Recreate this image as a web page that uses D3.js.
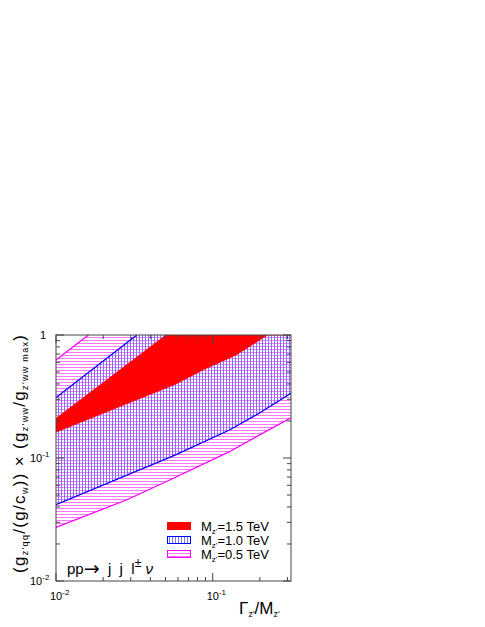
<!DOCTYPE html>
<html>
<head>
<script src="https://d3js.org/d3.v7.min.js"></script>
<style>
  body { margin: 0; background: #fff; }
  text { font-family: "Liberation Sans", Arial, sans-serif; fill: #000; }
</style>
</head>
<body>
<svg id="plot" width="485" height="627"></svg>
<script>
// data: [Gamma/M, coupling ratio]
const magentaUpper = [[0.01, 0.626], [0.0161, 1.0]];
const magentaLower = [[0.01, 0.0273], [0.0286, 0.046], [0.058, 0.0697], [0.128, 0.1125], [0.199, 0.154], [0.316, 0.212]];
const blueUpper = [[0.01, 0.31], [0.0328, 1.0]];
const blueLower = [[0.01, 0.0417], [0.058, 0.106], [0.128, 0.169], [0.199, 0.232], [0.316, 0.336]];
const redUpper = [[0.01, 0.21], [0.0502, 1.0]];
const redLower = [[0.01, 0.162], [0.058, 0.397], [0.0867, 0.519], [0.1416, 0.688], [0.224, 1.0]];

const legendLabels = ["1.5 TeV", "1.0 TeV", "0.5 TeV"];
const xMajor = [0.01, 0.1];
const xMinor = [0.02, 0.03, 0.04, 0.05, 0.06, 0.07, 0.08, 0.09, 0.2, 0.3];
const yMajor = [0.01, 0.1, 1];
const yMinor = [0.02, 0.03, 0.04, 0.05, 0.06, 0.07, 0.08, 0.09, 0.2, 0.3, 0.4, 0.5, 0.6, 0.7, 0.8, 0.9];
const xTickLabels = [["10", "-2"], ["10", "-1"]];
const yTickLabels = [["10", "-2"], ["10", "-1"], ["1", ""]];

const svg = d3.select("svg#plot");
const margin = {left: 56, right: 194, top: 335, bottom: 46};
const W = 485, H = 627;

const x = d3.scaleLog().domain([0.01, 0.316]).range([margin.left, W - margin.right]);
const y = d3.scaleLog().domain([0.01, 1]).range([H - margin.bottom, margin.top]);

const defs = svg.append("defs");
defs.append("clipPath").attr("id", "clip")
    .append("rect")
    .attr("x", x.range()[0]).attr("y", y.range()[1])
    .attr("width", x.range()[1] - x.range()[0])
    .attr("height", y.range()[0] - y.range()[1]);

const hatchH = defs.append("pattern").attr("id", "hatchH")
    .attr("patternUnits", "userSpaceOnUse").attr("width", 6).attr("height", 3);
hatchH.append("line").attr("x1", 0).attr("x2", 6).attr("y1", 1.5).attr("y2", 1.5)
    .attr("stroke", "#ff66ff").attr("stroke-width", 0.9);

const hatchV = defs.append("pattern").attr("id", "hatchV")
    .attr("patternUnits", "userSpaceOnUse").attr("width", 3).attr("height", 6);
hatchV.append("line").attr("y1", 0).attr("y2", 6).attr("x1", 1.5).attr("x2", 1.5)
    .attr("stroke", "#6a6aff").attr("stroke-width", 0.9);

const line = d3.line().x(d => x(d[0])).y(d => y(d[1]));

// band polygon: upper curve, top-right corner, lower curve back
function band(upper, lower) {
    const corner = [x.domain()[1], y.domain()[1]];
    return upper.concat([corner], lower.slice().reverse());
}

const g = svg.append("g").attr("clip-path", "url(#clip)");

g.append("path").attr("d", line(band(magentaUpper, magentaLower)))
    .attr("fill", "url(#hatchH)").attr("stroke", "none");
g.append("path").attr("d", line(band(blueUpper, blueLower)))
    .attr("fill", "url(#hatchV)").attr("stroke", "none");
g.append("path").attr("d", line(band(redUpper, redLower)))
    .attr("fill", "#ff0000").attr("stroke", "#ff0000").attr("stroke-width", 0.5);

[[magentaUpper, "#ff00ff"], [magentaLower, "#ff00ff"], [blueUpper, "#0000ff"], [blueLower, "#0000ff"]]
    .forEach(([d, c]) => {
        g.append("path").attr("d", line(d)).attr("fill", "none")
            .attr("stroke", c).attr("stroke-width", 1.3);
    });

// frame and ticks (ROOT style, ticks inside on all four sides)
const axes = svg.append("g").attr("stroke", "#444");
svg.append("rect")
    .attr("x", x.range()[0]).attr("y", y.range()[1])
    .attr("width", x.range()[1] - x.range()[0])
    .attr("height", y.range()[0] - y.range()[1])
    .attr("fill", "none").attr("stroke", "#444").attr("stroke-width", 1);

function xTicks(vals, len) {
    vals.forEach(v => {
        axes.append("line").attr("x1", x(v)).attr("x2", x(v))
            .attr("y1", y.range()[0]).attr("y2", y.range()[0] - len);
        axes.append("line").attr("x1", x(v)).attr("x2", x(v))
            .attr("y1", y.range()[1]).attr("y2", y.range()[1] + len);
    });
}
function yTicks(vals, len) {
    vals.forEach(v => {
        axes.append("line").attr("y1", y(v)).attr("y2", y(v))
            .attr("x1", x.range()[0]).attr("x2", x.range()[0] + len);
        axes.append("line").attr("y1", y(v)).attr("y2", y(v))
            .attr("x1", x.range()[1]).attr("x2", x.range()[1] - len);
    });
}
xTicks(xMajor, 8); xTicks(xMinor, 4);
yTicks(yMajor, 8); yTicks(yMinor, 4);

// tick labels with superscripts
function powLabel(sel, base, exp) {
    sel.append("tspan").text(base);
    if (exp) sel.append("tspan").attr("font-size", 8).attr("dy", -5).text(exp);
}
xMajor.forEach((v, i) => {
    const t = svg.append("text").attr("x", x(v) - 6).attr("y", 600).attr("font-size", 11);
    powLabel(t, xTickLabels[i][0], xTickLabels[i][1]);
});
yMajor.forEach((v, i) => {
    const t = svg.append("text").attr("y", y(v) + 4).attr("font-size", 11)
        .attr("x", yTickLabels[i][1] ? 30 : 40);
    powLabel(t, yTickLabels[i][0], yTickLabels[i][1]);
});

// x title
const xt = svg.append("text").attr("x", 239).attr("y", 614).attr("font-size", 17);
xt.append("tspan").text("Γ");
xt.append("tspan").attr("font-size", 9).attr("dy", 3).text("z'");
xt.append("tspan").attr("dy", -3).text("/M");
xt.append("tspan").attr("font-size", 9).attr("dy", 3).text("z'");

// y title (rotated)
const yt = svg.append("text").attr("transform", "translate(25,573) rotate(-90)")
    .attr("font-size", 17).attr("textLength", 238).attr("lengthAdjust", "spacing");
function sub(s) { yt.append("tspan").attr("font-size", 9).attr("dy", 3).text(s); }
function main(s) { yt.append("tspan").attr("dy", -3).text(s); }
yt.append("tspan").text("(g");
sub("z'qq"); main("/(g/c"); sub("w"); main(")) × (g");
sub("z'ww"); main("/g"); sub("z'ww max"); main(")");

// process annotation
const pp = svg.append("text").attr("x", 67).attr("y", 574).attr("font-size", 15)
    .style("white-space", "pre");
pp.append("tspan").text("pp");
pp.append("tspan").attr("font-family", "DejaVu Sans").attr("font-size", 19).attr("dy", 1).text("→");
pp.append("tspan").attr("dy", -1).text("  j  j  l");
pp.append("tspan").attr("font-size", 12).attr("dy", -7).text("±");
pp.append("tspan").attr("dy", 7).attr("font-style", "italic").text(" ν");

// legend
const legFill = ["#ff0000", "url(#hatchV)", "url(#hatchH)"];
const legStroke = ["#ff0000", "#0000ff", "#ff00ff"];
const legY = d3.scalePoint().domain(legendLabels).range([526, 554]);
legendLabels.forEach((lab, i) => {
    svg.append("rect").attr("x", 167.5).attr("y", legY(lab) - 3.5)
        .attr("width", 23).attr("height", 7)
        .attr("fill", legFill[i]).attr("stroke", legStroke[i]).attr("stroke-width", 1);
    const t = svg.append("text").attr("x", 201).attr("y", legY(lab) + 5).attr("font-size", 13);
    t.append("tspan").text("M");
    t.append("tspan").attr("font-size", 8).attr("dy", 3).text("z'");
    t.append("tspan").attr("dy", -3).text("=" + lab);
});
</script>
</body>
</html>
